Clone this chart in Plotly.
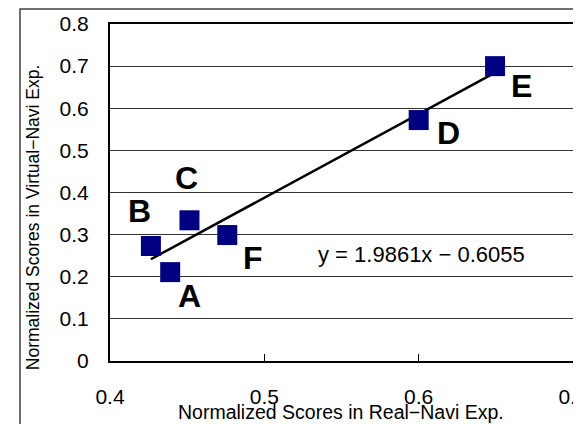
import plotly.graph_objects as go

labels = ["A", "B", "C", "D", "E", "F"]
real_scores = [0.439, 0.4265, 0.4515, 0.600, 0.6495, 0.476]
virtual_scores = [0.211, 0.273, 0.334, 0.572, 0.700, 0.299]
slope = 1.9861
intercept = -0.6055
x_ticks = [0.4, 0.5, 0.6, 0.7]
y_ticks = [0, 0.1, 0.2, 0.3, 0.4, 0.5, 0.6, 0.7, 0.8]

# label offsets (pixels) relative to each marker
label_shift = {"A": (19, -24), "B": (-11, 35), "C": (-3, 42), "D": (30, -13), "E": (26, -20), "F": (26, -23)}

FONT = "Liberation Sans, Arial, sans-serif"

x_line = [min(real_scores), max(real_scores)]
y_line = [slope * v + intercept for v in x_line]

fig = go.Figure()
fig.add_trace(go.Scatter(x=x_line, y=y_line, mode="lines",
                         line=dict(color="black", width=2.5), hoverinfo="skip"))
fig.add_trace(go.Scatter(x=real_scores, y=virtual_scores, mode="markers",
                         marker=dict(symbol="square", size=20, color="#000080",
                                     line=dict(width=0)),
                         text=labels))

for lab, xv, yv in zip(labels, real_scores, virtual_scores):
    dx, dy = label_shift[lab]
    fig.add_annotation(x=xv, y=yv, text=f"<b>{lab}</b>", showarrow=False, xshift=dx, yshift=dy,
                       xanchor="center", yanchor="middle",
                       font=dict(family=FONT, size=32, color="black"))

fig.add_annotation(x=0.6017, y=0.252, text=f"y = {slope}x − {abs(intercept)}", showarrow=False,
                   xanchor="center", yanchor="middle",
                   font=dict(family=FONT, size=22, color="black"))

fig.add_annotation(xref="paper", yref="paper", x=-0.166, y=0.427, text="Normalized Scores in Virtual−Navi Exp.",
                   textangle=-90, showarrow=False, xanchor="center", yanchor="middle",
                   font=dict(family=FONT, size=17.5, color="black"))
fig.add_annotation(xref="paper", yref="paper", x=0.499, y=-0.152, text="Normalized Scores in Real−Navi Exp.",
                   showarrow=False, xanchor="center", yanchor="middle",
                   font=dict(family=FONT, size=19.5, color="black"))

# outer chart border
fig.add_shape(type="rect", xref="paper", yref="paper", x0=-0.1944, y0=-0.4, x1=1.2, y1=1.0445,
              line=dict(color="#404040", width=1.5), layer="below")

fig.update_layout(
    width=581, height=424,
    margin=dict(l=102, r=16, t=16, b=71),
    paper_bgcolor="white", plot_bgcolor="white",
    showlegend=False,
    font=dict(family=FONT, size=21, color="black"),
    xaxis=dict(range=[0.4, 0.7], tickvals=x_ticks, ticktext=[str(v) for v in x_ticks],
               showgrid=False, zeroline=False, showline=True, mirror=True, linecolor="black",
               linewidth=2, ticks="inside", ticklen=7, tickcolor="black", tickwidth=1,
               ticklabelstandoff=16, tickfont=dict(size=21), automargin=False),
    yaxis=dict(range=[0, 0.8], tickvals=y_ticks, ticktext=[str(v) for v in y_ticks],
               showgrid=True, gridcolor="#333333", gridwidth=1, zeroline=False,
               showline=True, mirror=True, linecolor="black", linewidth=2,
               ticks="", ticklabelstandoff=15, tickfont=dict(size=21), automargin=False),
)

fig.write_html("out.html")
